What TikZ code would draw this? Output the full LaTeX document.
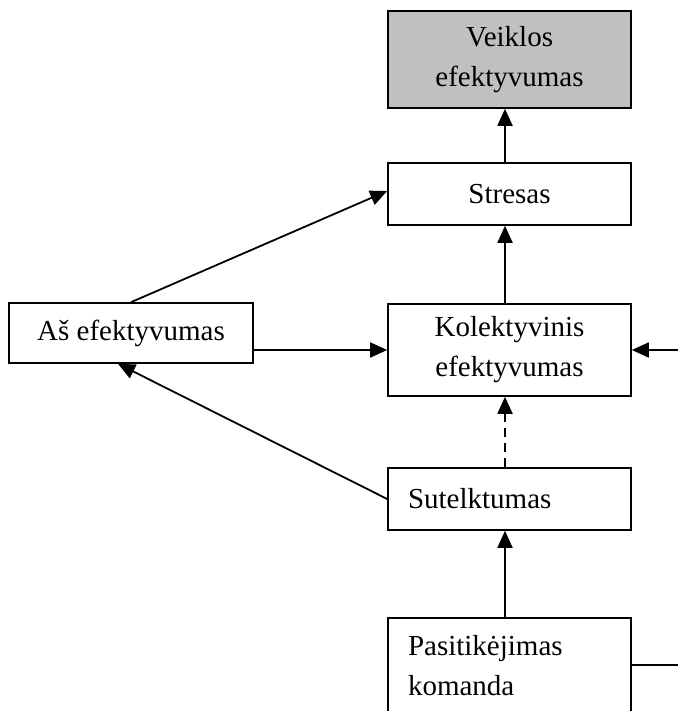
\documentclass[tikz,border=0pt]{standalone}
\usepackage{fontspec}
\setmainfont{Liberation Serif}
\usepackage{tikz}
\usetikzlibrary{arrows.meta, positioning, calc}
\definecolor{BoxGray}{RGB}{192,192,192}

\begin{document}
\begin{tikzpicture}[
        x=1pt, y=-1pt,
        bx/.style={draw=black, line width=1.6pt, minimum width=243pt,
                   font=\fontsize{29}{40}\selectfont, inner sep=0pt},
        ctr/.style={bx, align=center},
        lft/.style={bx, align=left, text width=203pt, inner xsep=20pt},
        arr/.style={-{Triangle[length=17pt,width=15pt]}, line width=1.8pt}
      ]
        \useasboundingbox (0,0) rectangle (678,711);
        \clip (0,0) rectangle (678,711);

        % boxes
        \node[ctr, fill=BoxGray, minimum height=97pt] (veik) at (509.5,59.5) {Veiklos\\efektyvumas};
        \node[ctr, minimum height=62pt] (stres) at (509.5,194) {Stresas};
        \node[ctr, minimum width=244pt, minimum height=60pt] (as) at (131,333) {Aš efektyvumas};
        \node[ctr, minimum height=92pt] (kol) at (509.5,350) {Kolektyvinis\\efektyvumas};
        \node[lft, minimum height=62pt] (sut) at (509.5,499) {Sutelktumas};
        \node[lft, minimum height=96pt] (pas) at (509.5,666) {Pasitikėjimas\\komanda};

        \coordinate (ext) at (678,350);
        \coordinate (pasr) at (678,665);

        % connectors
        \draw[arr] ([xshift=-4.5pt]stres.north) -- ([xshift=-4.5pt]veik.south);
        \draw[arr] ([xshift=-4.5pt]kol.north) -- ([xshift=-4.5pt]stres.south);
        \draw[arr] (as.north) -- ([yshift=3pt]stres.west);
        \draw[arr] (as.east |- kol.west) -- (kol.west);
        \draw[arr] (sut.west) -- ([xshift=-13pt]as.south);
        \draw[arr, dashed, dash pattern=on 9pt off 6pt] ([xshift=-4.5pt]sut.north) -- ([xshift=-4.5pt]kol.south);
        \draw[arr] ([xshift=-4.5pt]pas.north) -- ([xshift=-4.5pt]sut.south);
        \draw[arr] (ext) -- (kol.east);
        \draw[line width=1.6pt] (pas.east |- pasr) -- (pasr);
      \end{tikzpicture}
\end{document}
